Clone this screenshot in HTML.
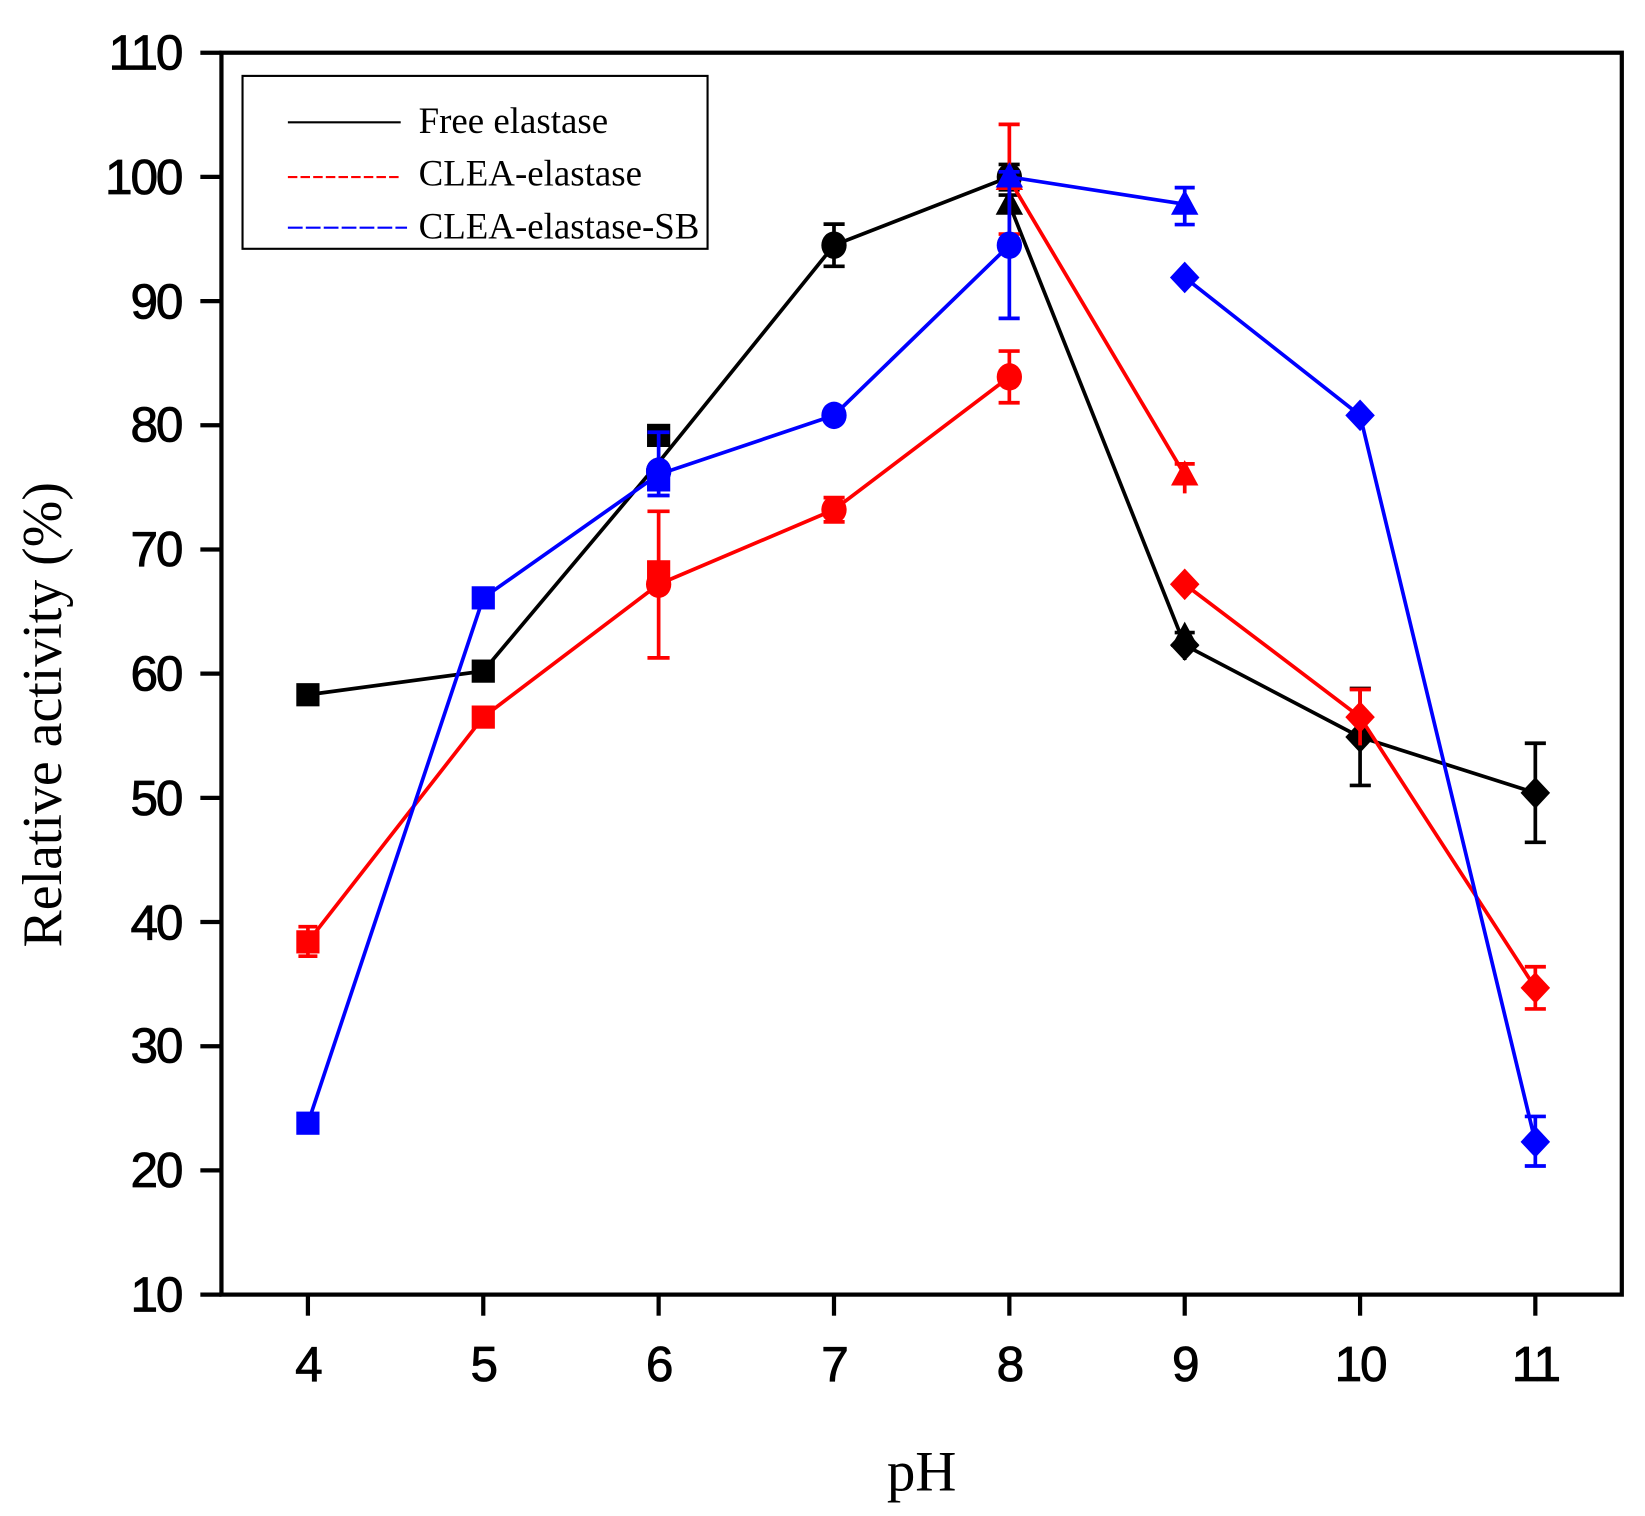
<!DOCTYPE html>
<html><head><meta charset="utf-8"><style>html,body{margin:0;padding:0;background:#fff}svg{display:block}</style></head>
<body>
<svg width="1645" height="1516" viewBox="0 0 1560 1438" preserveAspectRatio="none" xmlns="http://www.w3.org/2000/svg">
<defs>
<g id="sq"><rect x="-11" y="-11" width="22" height="22"/></g>
<g id="ci"><ellipse rx="12" ry="13"/></g>
<g id="tr"><polygon points="0,-14 13,10 -13,10"/></g>
<g id="di"><polygon points="0,-15 14,0 0,15 -14,0"/></g>
</defs>
<rect width="1560" height="1438" fill="#fff"/>
<rect x="210" y="50" width="1328" height="1178" fill="none" stroke="#000" stroke-width="4"/>
<g stroke="#000" stroke-width="4">
<line x1="190" y1="50" x2="210" y2="50"/><line x1="190" y1="167.8" x2="210" y2="167.8"/><line x1="190" y1="285.6" x2="210" y2="285.6"/><line x1="190" y1="403.4" x2="210" y2="403.4"/><line x1="190" y1="521.2" x2="210" y2="521.2"/><line x1="190" y1="639" x2="210" y2="639"/><line x1="190" y1="756.8" x2="210" y2="756.8"/><line x1="190" y1="874.6" x2="210" y2="874.6"/><line x1="190" y1="992.4" x2="210" y2="992.4"/><line x1="190" y1="1110.2" x2="210" y2="1110.2"/><line x1="190" y1="1228" x2="210" y2="1228"/>
<line x1="292" y1="1228" x2="292" y2="1248"/><line x1="458.3" y1="1228" x2="458.3" y2="1248"/><line x1="624.6" y1="1228" x2="624.6" y2="1248"/><line x1="790.9" y1="1228" x2="790.9" y2="1248"/><line x1="957.2" y1="1228" x2="957.2" y2="1248"/><line x1="1123.5" y1="1228" x2="1123.5" y2="1248"/><line x1="1289.8" y1="1228" x2="1289.8" y2="1248"/><line x1="1456" y1="1228" x2="1456" y2="1248"/>
</g>
<g font-family="Liberation Sans, sans-serif" font-size="47" text-anchor="end" fill="#000" letter-spacing="-2" stroke="#000" stroke-width="0.8">
<text x="172" y="66">110</text><text x="172" y="184">100</text><text x="172" y="302">90</text><text x="172" y="419">80</text><text x="172" y="537">70</text><text x="172" y="655">60</text><text x="172" y="773">50</text><text x="172" y="891">40</text><text x="172" y="1008">30</text><text x="172" y="1126">20</text><text x="172" y="1244">10</text>
</g>
<g font-family="Liberation Sans, sans-serif" font-size="47" text-anchor="middle" letter-spacing="-2" stroke="#000" stroke-width="0.8">
<text x="292" y="1310">4</text><text x="458.3" y="1310">5</text><text x="624.6" y="1310">6</text><text x="790.9" y="1310">7</text><text x="957.2" y="1310">8</text><text x="1123.5" y="1310">9</text><text x="1289.8" y="1310">10</text><text x="1456" y="1310">11</text>
</g>
<text x="874" y="1414" font-family="Liberation Serif, serif" font-size="54" text-anchor="middle">pH</text>
<text transform="translate(58,678) rotate(-90)" font-family="Liberation Serif, serif" font-size="53" text-anchor="middle">Relative activity (%)</text>
<rect x="230" y="72" width="441" height="164" fill="#fff" stroke="#000" stroke-width="2"/>
<line x1="273" y1="116" x2="380" y2="116" stroke="#000" stroke-width="2"/>
<line x1="273" y1="168" x2="380" y2="168" stroke="#f00" stroke-width="2" stroke-dasharray="9,3"/>
<line x1="273" y1="216" x2="386" y2="216" stroke="#00f" stroke-width="2" stroke-dasharray="14,3"/>
<g font-family="Liberation Serif, serif" font-size="35">
<text x="397" y="126">Free elastase</text><text x="397" y="176">CLEA-elastase</text><text x="397" y="226">CLEA-elastase-SB</text>
</g>
<g stroke="#000" stroke-width="3.5" fill="none">
<polyline points="292,659 458.3,636.6 624.6,438.7 790.9,232.6 957.2,167.8 957.2,193.7 1123.5,611.9 1289.8,699.1 1456,752.1"/>
<path d="M790.9,212.6V252.6M781,212.6H801M781,252.6H801 M957.2,156V180M947,156H967M947,180H967 M1123.5,600V626M1114,600H1133 M1289.8,653V745M1280,653H1300M1280,745H1300 M1456,705V799M1446,705H1466M1446,799H1466 M957.2,180V200M947,185H967"/>
</g>
<g fill="#000">
<use href="#sq" x="292" y="659"/><use href="#sq" x="458.3" y="636.6"/><use href="#sq" x="624.6" y="413"/>
<use href="#ci" x="624.6" y="447"/><use href="#ci" x="790.9" y="232.6"/><use href="#ci" x="957.2" y="167.8"/>
<use href="#tr" x="957.2" y="193.7"/><use href="#tr" x="1123.5" y="603.7"/>
<use href="#di" x="1123.5" y="611.9"/><use href="#di" x="1289.8" y="699.1"/><use href="#di" x="1456" y="752.1"/>
</g>
<g stroke="#f00" stroke-width="3.5" fill="none">
<polyline points="292,893.4 458.3,680.2 624.6,554.2 790.9,483.5 957.2,357.5"/>
<polyline points="957.2,170.2 1123.5,450.5"/>
<polyline points="1123.5,554.2 1289.8,680.2 1456,937"/>
<path d="M292,879V907M283,879H301M283,907H301 M624.6,485V624M614,485H635M614,624H635 M790.9,472V495M781,472H801M781,495H801 M957.2,333V382M947,333H967M947,382H967 M957.2,118V222M947,118H967M947,222H967 M1123.5,440V468M1114,440H1133 M1289.8,654V707M1280,654H1300 M1456,917V957M1446,917H1466M1446,957H1466"/>
</g>
<g fill="#f00">
<use href="#sq" x="292" y="893.4"/><use href="#sq" x="458.3" y="680.2"/><use href="#sq" x="624.6" y="542.4"/>
<use href="#ci" x="624.6" y="554.2"/><use href="#ci" x="790.9" y="483.5"/><use href="#ci" x="957.2" y="357.5"/>
<use href="#tr" x="957.2" y="170.2"/><use href="#tr" x="1123.5" y="450.5"/>
<use href="#di" x="1123.5" y="554.2"/><use href="#di" x="1289.8" y="680.2"/><use href="#di" x="1456" y="937"/>
</g>
<g stroke="#00f" stroke-width="3.5" fill="none">
<polyline points="292,1065.4 458.3,567.1 624.6,450 790.9,394 957.2,232.6"/>
<polyline points="957.2,167.8 1123.5,193.7"/>
<polyline points="1123.5,263.2 1289.8,394 1456,1083.1"/>
<path d="M957.2,163V302M947,163H967M947,302H967 M1123.5,178V213M1114,178H1133M1114,213H1133 M1456,1059V1106M1446,1059H1466M1446,1106H1466 M624.6,410V470M614,410H635M614,470H635"/>
</g>
<g fill="#00f">
<use href="#sq" x="292" y="1065.4"/><use href="#sq" x="458.3" y="567.1"/><use href="#sq" x="624.6" y="455.2"/>
<use href="#ci" x="624.6" y="447"/><use href="#ci" x="790.9" y="394"/><use href="#ci" x="957.2" y="232.6"/>
<use href="#tr" x="957.2" y="167.8"/><use href="#tr" x="1123.5" y="193.7"/>
<use href="#di" x="1123.5" y="263.2"/><use href="#di" x="1289.8" y="394"/><use href="#di" x="1456" y="1083.1"/>
</g>
</svg>
</body></html>
